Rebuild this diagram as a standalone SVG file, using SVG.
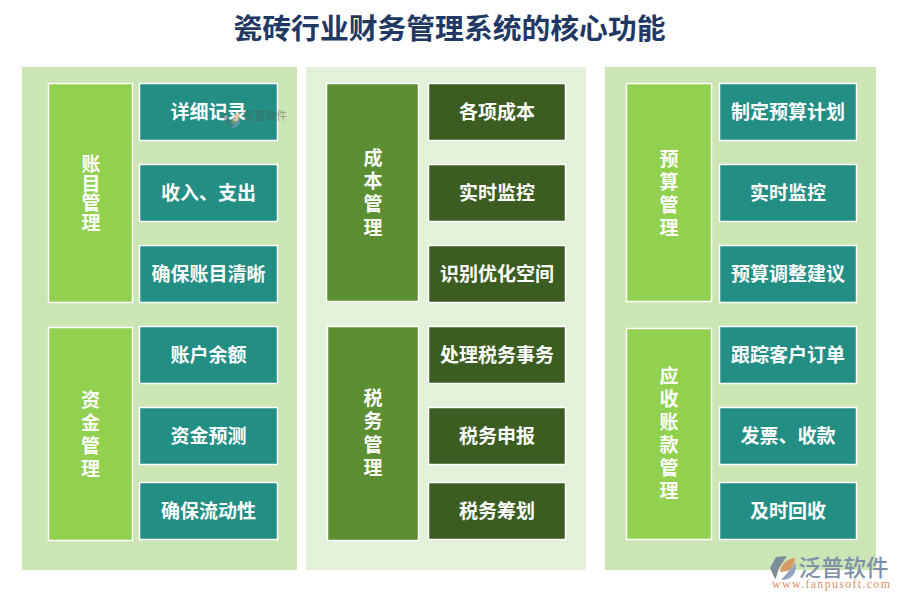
<svg xmlns="http://www.w3.org/2000/svg" width="900" height="600" viewBox="0 0 900 600">
<style>
text{font-family:"Noto Sans CJK SC","Liberation Sans",sans-serif;font-weight:700;text-anchor:middle;dominant-baseline:central;fill:#fff}
.t{font-size:19px}.h{font-size:19px}
.b{stroke:#fff;stroke-width:1.5}
.g1{fill:#92d050}.g2{fill:#5b8f31}.te{fill:#238e84}.dk{fill:#3c5d22}
</style>
<rect width="900" height="600" fill="#fff"/>
<text x="449.500" y="26" style="fill:#1f3864;font-size:28.800px">瓷砖行业财务管理系统的核心功能</text>
<rect x="22" y="67" width="275" height="503" fill="#cbe5b5"/>
<rect x="306" y="67" width="280" height="503" fill="#e4f1da"/>
<rect x="605" y="67" width="271" height="503" fill="#cbe5b5"/>
<g id="n1"><rect class="b g1" x="48.500" y="83.500" width="84" height="219"/><text class="h"><tspan x="91" y="162">账</tspan><tspan x="91" y="181.500">目</tspan><tspan x="91" y="201">管</tspan><tspan x="91" y="220.500">理</tspan></text></g>
<g id="n2"><rect class="b g1" x="48.500" y="327.500" width="84" height="213"/><text class="h"><tspan x="90.500" y="397.500">资</tspan><tspan x="90.500" y="420.500">金</tspan><tspan x="90.500" y="443.500">管</tspan><tspan x="90.500" y="466.500">理</tspan></text></g>
<g id="n3"><rect class="b te" x="139.500" y="83.500" width="138" height="57"/><text class="t" x="208.500" y="110">详细记录</text></g>
<g id="n4"><rect class="b te" x="139.500" y="164.500" width="138" height="57"/><text class="t" x="208.500" y="191">收入、支出</text></g>
<g id="n5"><rect class="b te" x="139.500" y="245.500" width="138" height="57"/><text class="t" x="208.500" y="272">确保账目清晰</text></g>
<g id="n6"><rect class="b te" x="139.500" y="326.500" width="138" height="57"/><text class="t" x="208.500" y="353">账户余额</text></g>
<g id="n7"><rect class="b te" x="139.500" y="407.500" width="138" height="57"/><text class="t" x="208.500" y="434">资金预测</text></g>
<g id="n8"><rect class="b te" x="139.500" y="482.500" width="138" height="57"/><text class="t" x="208.500" y="509">确保流动性</text></g>
<g id="n9"><rect class="b g2" x="326.500" y="83.500" width="92" height="218"/><text class="h"><tspan x="373" y="155.500">成</tspan><tspan x="373" y="179">本</tspan><tspan x="373" y="202">管</tspan><tspan x="373" y="225.500">理</tspan></text></g>
<g id="n10"><rect class="b g2" x="327.500" y="326.500" width="91" height="214"/><text class="h"><tspan x="373" y="395.500">税</tspan><tspan x="373" y="419">务</tspan><tspan x="373" y="442.500">管</tspan><tspan x="373" y="465.500">理</tspan></text></g>
<g id="n11"><rect class="b dk" x="428.500" y="83.500" width="137" height="57"/><text class="t" x="497" y="110">各项成本</text></g>
<g id="n12"><rect class="b dk" x="428.500" y="164.500" width="137" height="57"/><text class="t" x="497" y="191">实时监控</text></g>
<g id="n13"><rect class="b dk" x="428.500" y="245.500" width="137" height="57"/><text class="t" x="497" y="272">识别优化空间</text></g>
<g id="n14"><rect class="b dk" x="428.500" y="326.500" width="137" height="57"/><text class="t" x="497" y="353">处理税务事务</text></g>
<g id="n15"><rect class="b dk" x="428.500" y="407.500" width="137" height="57"/><text class="t" x="497" y="434">税务申报</text></g>
<g id="n16"><rect class="b dk" x="428.500" y="482.500" width="137" height="57"/><text class="t" x="497" y="509">税务筹划</text></g>
<g id="n17"><rect class="b g1" x="626.500" y="83.500" width="85" height="218"/><text class="h"><tspan x="669" y="156.500">预</tspan><tspan x="669" y="179.500">算</tspan><tspan x="669" y="202.500">管</tspan><tspan x="669" y="225.500">理</tspan></text></g>
<g id="n18"><rect class="b g1" x="626.500" y="328.500" width="85" height="211"/><text class="h"><tspan x="669" y="373.500">应</tspan><tspan x="669" y="396.500">收</tspan><tspan x="669" y="419.500">账</tspan><tspan x="669" y="442.500">款</tspan><tspan x="669" y="466">管</tspan><tspan x="669" y="488.500">理</tspan></text></g>
<g id="n19"><rect class="b te" x="719.500" y="83.500" width="137" height="57"/><text class="t" x="788" y="110">制定预算计划</text></g>
<g id="n20"><rect class="b te" x="719.500" y="164.500" width="137" height="57"/><text class="t" x="788" y="191">实时监控</text></g>
<g id="n21"><rect class="b te" x="719.500" y="245.500" width="137" height="57"/><text class="t" x="788" y="272">预算调整建议</text></g>
<g id="n22"><rect class="b te" x="719.500" y="326.500" width="137" height="57"/><text class="t" x="788" y="353">跟踪客户订单</text></g>
<g id="n23"><rect class="b te" x="719.500" y="407.500" width="137" height="57"/><text class="t" x="788" y="434">发票、收款</text></g>
<g id="n24"><rect class="b te" x="719.500" y="482.500" width="137" height="57"/><text class="t" x="788" y="509">及时回收</text></g>
<g id="wm1" opacity="0.5"><path d="M222 116l4-2 4 10 3 3-3 1z" fill="#667"/><path d="M231 122l6-10 3 1c0 6-3 10-7 11z" fill="#d89a62"/><path d="M231 128l9-11c1 7-2 11-9 11z" fill="#95a4c0"/>
<text x="265" y="114.500" style="font-size:11px;fill:#555;font-weight:400">泛普软件</text></g>
<g id="logo"><path d="M770 568l6-11 11-1-8 12-3 10-1 1z" fill="#7f8c99"/><path d="M780 572c1-7 6-13 15-14 0 6-3 11-7 13z" fill="#d89a62"/><path d="M781 580l15-17c1 10-4 17-15 17z" fill="#95a4c0"/>
<text x="843.500" y="566" style="font-size:22.500px;fill:#7f8fa8;font-weight:500">泛普软件</text><text x="831" y="584" textLength="118" style="font-size:12px;fill:#e0906a;font-weight:400;font-family:'Liberation Serif',serif">www.fanpusoft.com</text></g>
</svg>
